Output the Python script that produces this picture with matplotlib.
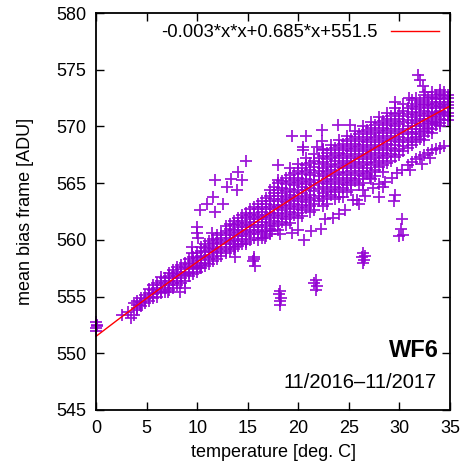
import numpy as np
import matplotlib
matplotlib.use('Agg')
import matplotlib.pyplot as plt

plt.rcParams['font.family'] = ['Liberation Sans', 'DejaVu Sans']

# fit coefficients (a*x*x + b*x + c)
fit_a, fit_b, fit_c = -0.003, 0.685, 551.5
fit_label = '-0.003*x*x+0.685*x+551.5'

# dense main band, read column by column (temperature, [bias values])
band_cols = [
    (4.0, [554.0, 554.3, 554.6]),
    (4.4, [554.2, 554.5, 554.9]),
    (4.8, [554.4, 554.8, 555.1]),
    (5.2, [554.6, 555.0, 555.3, 555.7]),
    (5.6, [554.9, 555.2, 555.6, 556.0]),
    (6.0, [555.0, 555.4, 555.8, 556.2]),
    (6.4, [555.3, 555.6, 556.0, 556.4, 556.7]),
    (6.8, [555.4, 555.8, 556.2, 556.6]),
    (7.2, [555.6, 556.0, 556.4, 556.8, 557.1]),
    (7.6, [555.8, 556.2, 556.6, 557.0, 557.3]),
    (8.0, [556.0, 556.4, 556.8, 557.2, 557.6]),
    (8.4, [556.2, 556.6, 557.0, 557.4, 557.8]),
    (8.8, [556.4, 556.9, 557.2, 557.6, 558.0]),
    (9.2, [556.8, 557.1, 557.5, 557.9, 558.3]),
    (9.6, [557.0, 557.4, 557.7, 558.1, 558.5]),
    (10.0, [557.2, 557.6, 558.0, 558.4, 558.8]),
    (10.4, [557.5, 557.8, 558.2, 558.6, 559.0, 559.4]),
    (10.8, [557.7, 558.0, 558.5, 558.9, 559.3, 559.6]),
    (11.2, [557.9, 558.3, 558.7, 559.1, 559.5, 559.9]),
    (11.6, [558.1, 558.5, 558.9, 559.3, 559.7, 560.1]),
    (12.0, [558.3, 558.8, 559.2, 559.6, 560.0, 560.4]),
    (12.4, [558.6, 559.0, 559.4, 559.8, 560.2, 560.6]),
    (12.8, [558.8, 559.2, 559.6, 560.0, 560.4, 560.8, 561.2]),
    (13.2, [559.0, 559.4, 559.8, 560.2, 560.6, 561.0, 561.4]),
    (13.6, [559.2, 559.6, 560.0, 560.4, 560.9, 561.3, 561.7]),
    (14.0, [559.5, 559.9, 560.3, 560.7, 561.1, 561.5, 561.9]),
    (14.4, [559.6, 560.1, 560.5, 560.9, 561.3, 561.7, 562.2]),
    (14.8, [559.8, 560.3, 560.7, 561.1, 561.5, 562.0, 562.4]),
    (15.2, [560.0, 560.5, 560.9, 561.3, 561.8, 562.2, 562.7]),
    (15.6, [560.2, 560.7, 561.1, 561.6, 562.0, 562.4, 562.9]),
    (16.0, [560.0, 560.5, 560.9, 561.3, 561.8, 562.2, 562.7, 563.2]),
    (16.4, [560.2, 560.7, 561.1, 561.6, 562.0, 562.5, 562.9, 563.4]),
    (16.8, [560.3, 560.8, 561.3, 561.8, 562.2, 562.7, 563.2, 563.7]),
    (17.2, [560.5, 561.0, 561.5, 562.0, 562.4, 562.9, 563.4, 563.9, 564.4]),
    (17.6, [561.2, 561.7, 562.2, 562.7, 563.1, 563.6, 564.1, 564.7]),
    (18.0, [560.9, 561.4, 561.9, 562.4, 562.9, 563.4, 563.9, 564.4, 565.0]),
    (18.4, [561.6, 562.1, 562.6, 563.1, 563.6, 564.1, 564.6, 565.2]),
    (18.8, [561.3, 561.8, 562.3, 562.8, 563.3, 563.8, 564.3, 564.9, 565.5]),
    (19.2, [561.5, 562.0, 562.5, 563.0, 563.5, 564.0, 564.5, 565.1, 565.7, 566.3]),
    (19.6, [562.2, 562.7, 563.2, 563.7, 564.2, 564.8, 565.3, 565.9]),
    (20.0, [561.9, 562.4, 562.9, 563.4, 563.9, 564.4, 565.0, 565.5, 566.1, 566.7]),
    (20.4, [562.1, 562.6, 563.1, 563.6, 564.1, 564.7, 565.2, 565.8, 566.3]),
    (20.8, [562.8, 563.3, 563.8, 564.4, 564.9, 565.4, 566.0, 566.6, 567.2]),
    (21.2, [562.5, 563.0, 563.5, 564.0, 564.6, 565.1, 565.7, 566.2, 566.8]),
    (21.6, [562.6, 563.2, 563.7, 564.3, 564.8, 565.3, 565.9, 566.4, 567.0, 567.6]),
    (22.0, [563.4, 563.9, 564.5, 565.0, 565.6, 566.1, 566.7, 567.2]),
    (22.4, [563.0, 563.6, 564.1, 564.7, 565.2, 565.8, 566.3, 566.9, 567.4, 568.0]),
    (22.8, [563.2, 563.8, 564.3, 564.9, 565.4, 566.0, 566.5, 567.1, 567.7]),
    (23.2, [564.0, 564.5, 565.1, 565.6, 566.2, 566.7, 567.3, 567.9, 568.4]),
    (23.6, [563.6, 564.2, 564.7, 565.3, 565.8, 566.4, 567.0, 567.5, 568.1]),
    (24.0, [563.8, 564.4, 564.9, 565.5, 566.0, 566.6, 567.2, 567.7, 568.3, 568.8]),
    (24.4, [564.6, 565.1, 565.7, 566.3, 566.8, 567.4, 567.9, 568.5]),
    (24.8, [564.2, 564.8, 565.3, 565.9, 566.5, 567.0, 567.6, 568.1, 568.7, 569.2]),
    (25.2, [564.4, 565.0, 565.5, 566.1, 566.7, 567.2, 567.8, 568.3, 568.9]),
    (25.6, [565.2, 565.7, 566.3, 566.9, 567.4, 568.0, 568.5, 569.1, 569.6]),
    (26.0, [564.8, 565.4, 565.9, 566.5, 567.1, 567.6, 568.2, 568.7, 569.3]),
    (26.4, [565.0, 565.6, 566.1, 566.7, 567.3, 567.8, 568.4, 568.9, 569.5, 570.0]),
    (26.8, [565.8, 566.3, 566.9, 567.5, 568.0, 568.6, 569.1, 569.7]),
    (27.2, [565.4, 566.0, 566.6, 567.1, 567.7, 568.2, 568.8, 569.3, 569.9, 570.4]),
    (27.6, [565.6, 566.2, 566.8, 567.3, 567.9, 568.4, 569.0, 569.5, 570.1]),
    (28.0, [566.4, 567.0, 567.5, 568.1, 568.6, 569.2, 569.7, 570.3, 570.8]),
    (28.4, [566.0, 566.6, 567.2, 567.7, 568.3, 568.8, 569.4, 569.9, 570.5]),
    (28.8, [566.8, 567.4, 567.9, 568.5, 569.0, 569.6, 570.1, 570.7, 571.2]),
    (29.2, [567.0, 567.6, 568.1, 568.7, 569.2, 569.8, 570.3, 570.9]),
    (29.6, [567.3, 567.8, 568.4, 568.9, 569.4, 570.0, 570.5, 571.1, 571.6]),
    (30.0, [567.5, 568.0, 568.6, 569.1, 569.6, 570.2, 570.7, 571.2]),
    (30.4, [567.8, 568.3, 568.8, 569.3, 569.8, 570.4, 570.9, 571.4, 572.0]),
    (30.8, [568.1, 568.6, 569.0, 569.5, 570.0, 570.6, 571.1, 571.6]),
    (31.2, [568.4, 568.8, 569.3, 569.8, 570.3, 570.8, 571.3, 571.8, 572.3]),
    (31.6, [568.6, 569.1, 569.5, 570.0, 570.5, 571.0, 571.5, 572.0, 572.5]),
    (32.0, [568.9, 569.3, 569.8, 570.2, 570.7, 571.2, 571.7, 572.2]),
    (32.4, [568.8, 569.2, 569.6, 570.0, 570.5, 570.9, 571.4, 571.9, 572.3, 572.8]),
    (32.8, [569.5, 569.9, 570.3, 570.7, 571.1, 571.6, 572.0, 572.5]),
    (33.2, [569.4, 569.8, 570.2, 570.5, 570.9, 571.3, 571.8, 572.2, 572.6, 573.0]),
    (33.6, [570.1, 570.4, 570.8, 571.2, 571.6, 572.0, 572.4, 572.8]),
    (34.0, [570.0, 570.3, 570.7, 571.1, 571.4, 571.8, 572.2, 572.5, 572.9, 573.2]),
    (34.4, [570.6, 571.0, 571.3, 571.7, 572.0, 572.4, 572.7, 573.0]),
    (34.8, [570.6, 570.9, 571.2, 571.6, 571.9, 572.2, 572.5, 572.8]),
]

pts_x0 = [(0.0, 552.8), (0.05, 552.5), (0.0, 552.2), (0.1, 552.4), (0.0, 552.0)]
pts_low = [(2.6, 553.4), (3.5, 553.1), (3.7, 553.4), (3.7, 554.4), (4.3, 554.3),
           (3.2, 553.6), (4.0, 553.8)]
pts_sparse_low = [
    (7.1, 555.4), (8.3, 555.4), (8.8, 555.8), (10.3, 557.5), (13.7, 559.4), (13.7, 558.5),
    (14.8, 559.6), (16.7, 560.2), (17.4, 560.8), (18.2, 560.5), (19.4, 560.6), (20.6, 560.0),
    (20.0, 560.9), (21.3, 560.8), (22.2, 561.0), (22.6, 561.8), (23.4, 561.9), (24.0, 562.3),
    (24.6, 562.6), (25.4, 563.5), (26.0, 563.2), (26.6, 563.9), (27.4, 564.6), (28.0, 564.9),
    (28.6, 565.1), (24.4, 563.8), (25.8, 563.5), (26.4, 564.4),
]
pts_lower_branch = [
    (29.3, 565.5), (29.8, 565.9), (30.3, 566.2), (30.8, 566.6), (31.2, 566.9), (31.6, 567.1),
    (32.0, 567.3), (32.4, 567.5), (32.8, 567.7), (33.2, 567.9), (33.6, 568.0), (34.0, 568.1),
    (34.4, 568.3), (31.0, 566.2), (32.2, 566.7), (33.0, 567.2),
    (28.4, 564.7), (29.6, 564.0), (29.5, 563.4), (27.1, 565.5), (28.0, 563.8),
]
pts_upper = [
    (10.3, 562.6), (11.0, 563.2), (11.6, 563.8), (11.8, 562.5), (12.6, 563.2), (12.9, 564.7),
    (11.8, 565.3), (13.3, 565.4), (13.9, 564.4), (14.4, 565.3), (14.0, 566.0), (14.8, 567.0),
    (10.0, 561.1), (10.0, 560.6), (10.1, 560.2), (9.5, 559.4), (9.5, 558.8), (11.5, 560.6),
    (18.0, 566.6), (18.0, 565.3),
    (19.4, 569.2), (20.8, 569.2), (22.3, 569.7), (22.3, 568.7), (22.4, 567.9), (23.9, 570.1),
    (25.1, 570.1), (20.5, 568.2), (20.5, 567.9), (21.8, 568.2),
    (31.8, 574.5), (32.0, 574.1), (32.3, 573.6), (32.5, 573.0), (29.6, 572.2), (30.9, 572.5),
]
pts_outliers = [
    (15.6, 558.5), (15.5, 558.1), (15.7, 557.7), (15.6, 558.3),
    (18.2, 555.5), (18.1, 555.2), (18.3, 554.9), (18.2, 554.6), (18.2, 554.3),
    (21.7, 556.5), (21.6, 556.2), (21.8, 555.9), (21.7, 555.6),
    (26.4, 558.8), (26.3, 558.5), (26.5, 558.2), (26.4, 558.0), (26.6, 558.6),
    (30.3, 561.8), (30.2, 561.0), (30.4, 560.4), (30.0, 560.3),
]

band_pts = [(x, y) for x, ys in band_cols for y in ys]
all_pts = pts_x0 + pts_low + band_pts + pts_sparse_low + pts_lower_branch + pts_upper + pts_outliers
temp = np.array([p[0] for p in all_pts])
bias = np.array([p[1] for p in all_pts])

fig = plt.figure(figsize=(4.62, 4.68), dpi=100)
ax = fig.add_axes([0.208, 0.124, 0.766, 0.848])

ax.plot(temp, bias, '+', color='#9400D3', markersize=8.5, markeredgewidth=1.3,
        alpha=0.9, clip_on=False, label='_nolegend_')

xx = np.linspace(0, 35, 200)
ax.plot(xx, fit_a * xx * xx + fit_b * xx + fit_c, color='red', lw=1.0, label=fit_label)

ax.set_xlim(0, 35)
ax.set_ylim(545, 580)
ax.set_xticks(np.arange(0, 36, 5))
ax.set_yticks(np.arange(545, 581, 5))
ax.tick_params(direction='in', top=True, right=True, length=6, width=1, labelsize=13, pad=7)
for s in ax.spines.values():
    s.set_linewidth(1.3)

ax.set_xlabel('temperature [deg. C]', fontsize=13, labelpad=5)
ax.set_ylabel('mean bias frame [ADU]', fontsize=13, labelpad=16)

leg = ax.legend(loc='upper right', frameon=False, fontsize=13.3, handlelength=2.6,
                markerfirst=False, borderaxespad=0.2, handletextpad=0.7)

ax.text(0.968, 0.133, 'WF6', transform=ax.transAxes, ha='right', va='baseline',
        fontsize=17, fontweight='bold')
ax.text(0.962, 0.055, '11/2016\u201311/2017', transform=ax.transAxes, ha='right',
        va='baseline', fontsize=14.5)

plt.savefig('out.png', dpi=100)
